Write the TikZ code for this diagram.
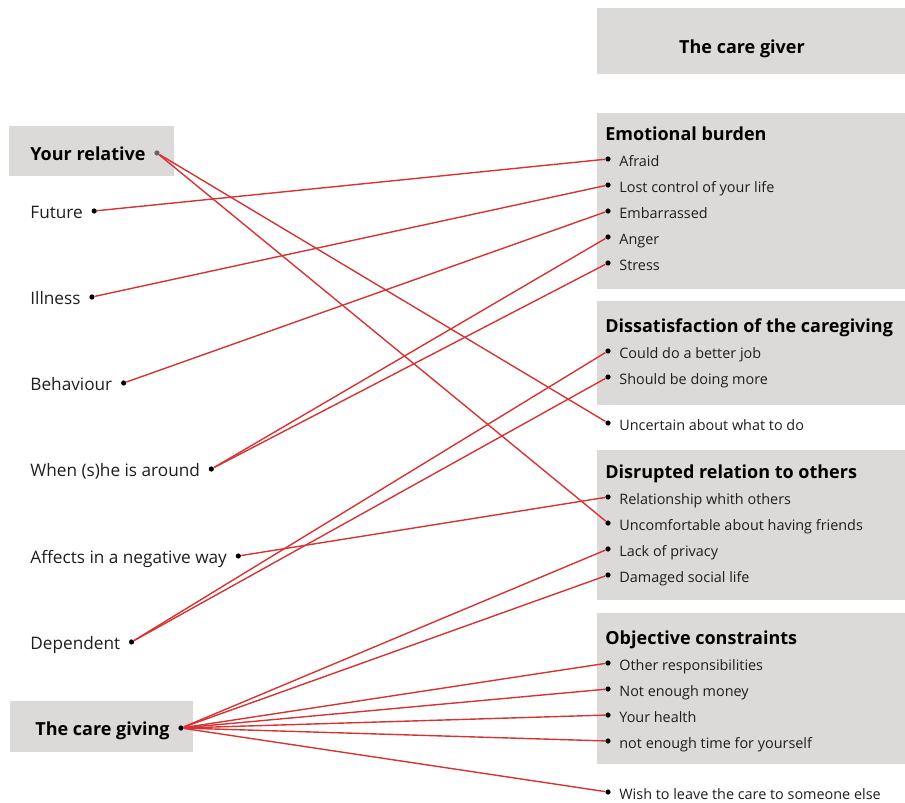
\documentclass[tikz,border=0pt]{standalone}
\usepackage{fontspec}
\setmainfont{Open Sans}
\usepackage{xcolor}
\usetikzlibrary{positioning}
\definecolor{boxgray}{RGB}{220,218,216}
\definecolor{linkred}{RGB}{214,52,52}
\definecolor{textdark}{RGB}{30,30,30}
\tikzset{
  catbox/.style={fill=boxgray},
  headlabel/.style={
    font=\fontsize{9}{11}\selectfont\bfseries, anchor=west, inner sep=0pt,
    text height=0.72em, text depth=0pt
  },
  itemlabel/.style={
    font=\fontsize{7.2}{9}\selectfont, text=textdark, inner sep=0pt,
    text height=0.72em, text depth=0pt
  },
  sidelabel/.style={
    font=\fontsize{8.6}{10}\selectfont, text=textdark, anchor=west,
    inner sep=0pt, text height=0.72em, text depth=0pt
  },
  dotnode/.style={circle, fill=black, inner sep=0pt, minimum size=2.6pt},
  link/.style={draw=linkred, line width=0.7pt},
}

\begin{document}
\begin{tikzpicture}[x=0.5pt, y=-0.5pt]
  \useasboundingbox (0,0) rectangle (905,803);

  % Boxes
  \fill[catbox] (597,8) rectangle (905,74);
  \fill[catbox] (597,113) rectangle (905,289);
  \fill[catbox] (597,301) rectangle (905,405);
  \fill[catbox] (597,450) rectangle (905,600);
  \fill[catbox] (597,613) rectangle (905,764);
  \fill[catbox] (9,126) rectangle (174,176);
  \fill[catbox] (10,701) rectangle (193,752);

  % Title
  \node[headlabel, anchor=center] (giver) at (742,46) {The care giver};

  % Left side
  \node[headlabel] (relativelbl) at (30,153) {Your relative};
  \node[dotnode, fill=gray!80!black, right=4pt of relativelbl] (relative) {};
  \node[sidelabel] (futurelbl) at (30,211) {Future};
  \node[dotnode, right=4pt of futurelbl] (future) {};
  \node[sidelabel] (illnesslbl) at (30,297) {Illness};
  \node[dotnode, right=4pt of illnesslbl] (illness) {};
  \node[sidelabel] (behaviourlbl) at (30,383) {Behaviour};
  \node[dotnode, right=4pt of behaviourlbl] (behaviour) {};
  \node[sidelabel] (aroundlbl) at (30,469) {When (s)he is around};
  \node[dotnode, right=4pt of aroundlbl] (around) {};
  \node[sidelabel] (affectslbl) at (30,556) {Affects in a negative way};
  \node[dotnode, right=4pt of affectslbl] (affects) {};
  \node[sidelabel] (dependentlbl) at (30,642) {Dependent};
  \node[dotnode, right=4pt of dependentlbl] (dependent) {};
  \node[headlabel] (givinglbl) at (35,728) {The care giving};
  \node[dotnode, right=4pt of givinglbl] (giving) {};

  % Emotional burden
  \node[headlabel] (emotional) at (605,133) {Emotional burden};
  \node[dotnode] (afraid) at (608,159) {};
  \node[itemlabel, right=4pt of afraid] {Afraid};
  \node[dotnode] (lostcontrol) at (608,185) {};
  \node[itemlabel, right=4pt of lostcontrol] {Lost control of your life};
  \node[dotnode] (embarrassed) at (608,211) {};
  \node[itemlabel, right=4pt of embarrassed] {Embarrassed};
  \node[dotnode] (anger) at (608,237) {};
  \node[itemlabel, right=4pt of anger] {Anger};
  \node[dotnode] (stress) at (608,263) {};
  \node[itemlabel, right=4pt of stress] {Stress};

  % Dissatisfaction of the caregiving
  \node[headlabel] (dissatisfaction) at (605,325)
    {Dissatisfaction of the caregiving};
  \node[dotnode] (betterjob) at (608,351) {};
  \node[itemlabel, right=4pt of betterjob] {Could do a better job};
  \node[dotnode] (doingmore) at (608,377) {};
  \node[itemlabel, right=4pt of doingmore] {Should be doing more};
  \node[dotnode] (uncertain) at (608,423) {};
  \node[itemlabel, right=4pt of uncertain] {Uncertain about what to do};

  % Disrupted relation to others
  \node[headlabel] (disrupted) at (605,471) {Disrupted relation to others};
  \node[dotnode] (relationship) at (608,497) {};
  \node[itemlabel, right=4pt of relationship] {Relationship whith others};
  \node[dotnode] (uncomfortable) at (608,523) {};
  \node[itemlabel, right=4pt of uncomfortable]
    {Uncomfortable about having friends};
  \node[dotnode] (privacy) at (608,549) {};
  \node[itemlabel, right=4pt of privacy] {Lack of privacy};
  \node[dotnode] (sociallife) at (608,575) {};
  \node[itemlabel, right=4pt of sociallife] {Damaged social life};

  % Objective constraints
  \node[headlabel] (objective) at (605,637) {Objective constraints};
  \node[dotnode] (otherresp) at (608,663) {};
  \node[itemlabel, right=4pt of otherresp] {Other responsibilities};
  \node[dotnode] (money) at (608,689) {};
  \node[itemlabel, right=4pt of money] {Not enough money};
  \node[dotnode] (health) at (608,715) {};
  \node[itemlabel, right=4pt of health] {Your health};
  \node[dotnode] (owntime) at (608,741) {};
  \node[itemlabel, right=4pt of owntime] {not enough time for yourself};
  \node[dotnode] (leavecare) at (608,792) {};
  \node[itemlabel, right=4pt of leavecare]
    {Wish to leave the care to someone else};

  % Links
  \draw[link] (relative) -- (uncertain);
  \draw[link] (relative) -- (uncomfortable);
  \draw[link] (future) -- (afraid);
  \draw[link] (illness) -- (lostcontrol);
  \draw[link] (behaviour) -- (embarrassed);
  \draw[link] (around) -- (anger);
  \draw[link] (around) -- (stress);
  \draw[link] (affects) -- (relationship);
  \draw[link] (dependent) -- (betterjob);
  \draw[link] (dependent) -- (doingmore);
  \draw[link] (giving) -- (privacy);
  \draw[link] (giving) -- (sociallife);
  \draw[link] (giving) -- (otherresp);
  \draw[link] (giving) -- (money);
  \draw[link] (giving) -- (health);
  \draw[link] (giving) -- (owntime);
  \draw[link] (giving) -- (leavecare);
\end{tikzpicture}
\end{document}
